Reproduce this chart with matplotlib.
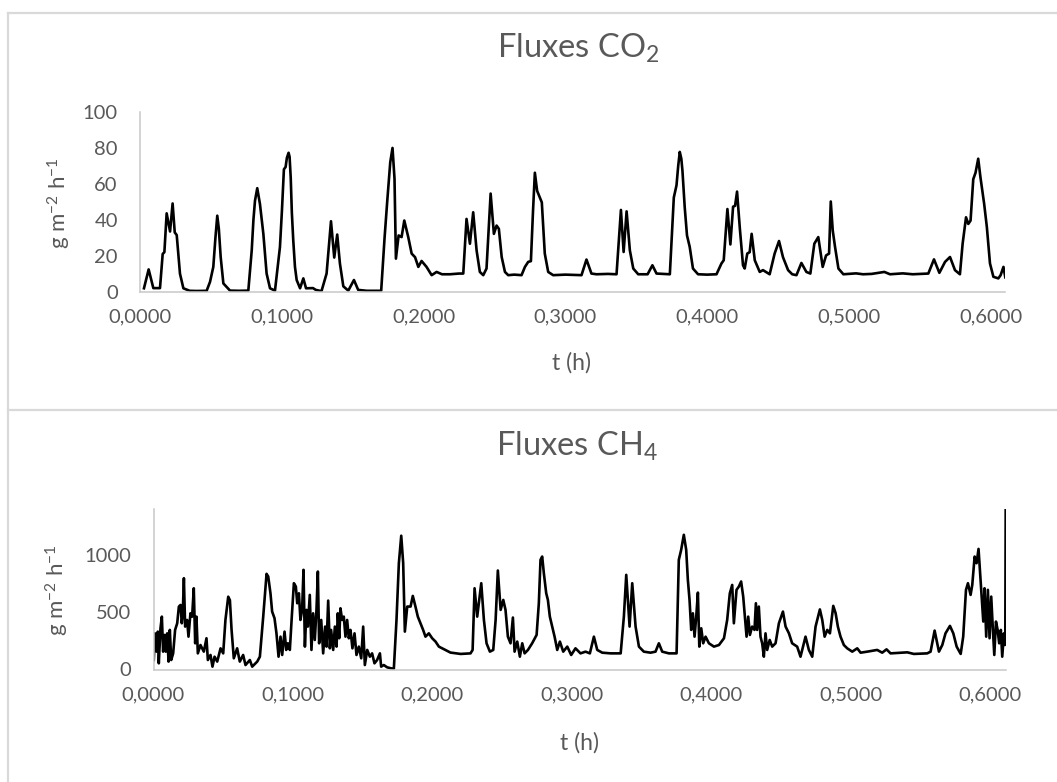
import matplotlib
matplotlib.use("Agg")
import matplotlib.pyplot as plt
from matplotlib.lines import Line2D
from matplotlib.ticker import FuncFormatter, FixedLocator

plt.rcParams['font.family'] = ['Lato', 'DejaVu Sans']
plt.rcParams['mathtext.fontset'] = 'custom'
plt.rcParams['mathtext.rm'] = 'Lato'
plt.rcParams['mathtext.it'] = 'Lato'

# ---------------- data ----------------
co2_t = [0.0028, 0.0061, 0.0094, 0.0141, 0.0160, 0.0172, 0.0188, 0.0212, 0.0230, 0.0245,
         0.0259, 0.0282, 0.0306, 0.0350, 0.0400, 0.0470, 0.0494, 0.0517, 0.0532, 0.0545,
         0.0556, 0.0569, 0.0588, 0.0635, 0.0700, 0.0764, 0.0788, 0.0800, 0.0811, 0.0827,
         0.0846, 0.0870, 0.0893, 0.0917, 0.0952, 0.0987, 0.1001, 0.1015, 0.1027, 0.1036,
         0.1048, 0.1055, 0.1063, 0.1071, 0.1081, 0.1093, 0.1105, 0.1129, 0.1152, 0.1171,
         0.1220, 0.1240, 0.1280, 0.1316, 0.1347, 0.1370, 0.1391, 0.1410, 0.1434, 0.1469,
         0.1509, 0.1539, 0.1600, 0.1701, 0.1725, 0.1744, 0.1765, 0.1781, 0.1795, 0.1805,
         0.1824, 0.1845, 0.1864, 0.1892, 0.1916, 0.1940, 0.1963, 0.1986, 0.2021, 0.2057,
         0.2092, 0.2130, 0.2186, 0.2250, 0.2280, 0.2303, 0.2327, 0.2350, 0.2374, 0.2397,
         0.2421, 0.2444, 0.2473, 0.2496, 0.2515, 0.2531, 0.2551, 0.2574, 0.2597, 0.2640,
         0.2691, 0.2715, 0.2738, 0.2757, 0.2772, 0.2785, 0.2801, 0.2815, 0.2834, 0.2855,
         0.2879, 0.2914, 0.3000, 0.3114, 0.3149, 0.3184, 0.3220, 0.3300, 0.3361, 0.3392,
         0.3411, 0.3432, 0.3455, 0.3479, 0.3514, 0.3580, 0.3614, 0.3643, 0.3737, 0.3765,
         0.3784, 0.3796, 0.3807, 0.3818, 0.3826, 0.3842, 0.3858, 0.3877, 0.3900, 0.3936,
         0.4000, 0.4066, 0.4101, 0.4117, 0.4143, 0.4164, 0.4183, 0.4197, 0.4211, 0.4230,
         0.4253, 0.4265, 0.4283, 0.4300, 0.4314, 0.4336, 0.4371, 0.4394, 0.4441, 0.4476,
         0.4507, 0.4535, 0.4571, 0.4600, 0.4630, 0.4665, 0.4700, 0.4728, 0.4756, 0.4784,
         0.4815, 0.4839, 0.4860, 0.4872, 0.4886, 0.4902, 0.4926, 0.4961, 0.5050, 0.5100,
         0.5160, 0.5250, 0.5290, 0.5380, 0.5450, 0.5560, 0.5600, 0.5638, 0.5678, 0.5713,
         0.5748, 0.5783, 0.5802, 0.5826, 0.5842, 0.5858, 0.5877, 0.5893, 0.5912, 0.5928,
         0.5954, 0.5973, 0.5995, 0.6019, 0.6054, 0.6070, 0.6090, 0.6103]
co2_v = [1.9, 12.4, 2.0, 2.0, 21.0, 22.0, 43.6, 33.5, 49.1, 33.0,
         31.5, 10.0, 1.9, 0.5, 0.4, 0.5, 5.5, 13.8, 30.0, 42.3,
         35.0, 19.3, 4.6, 0.6, 0.5, 0.6, 23.0, 40.0, 50.6, 57.6,
         48.8, 32.2, 10.1, 1.9, 0.6, 24.8, 45.0, 68.1, 69.4, 74.5,
         77.3, 75.1, 63.5, 44.0, 28.5, 13.8, 6.5, 1.9, 7.4, 1.9,
         2.0, 1.0, 0.3, 10.1, 39.2, 19.0, 31.8, 15.7, 3.0, 0.6,
         6.5, 1.0, 0.5, 0.5, 30.0, 50.6, 72.0, 80.0, 63.0, 18.4,
         31.3, 30.4, 39.6, 30.4, 21.2, 19.2, 13.8, 17.1, 13.8, 9.2,
         11.0, 9.7, 9.7, 10.1, 10.1, 40.5, 26.7, 44.2, 23.0, 11.0,
         9.2, 12.9, 54.6, 32.2, 36.8, 35.0, 19.3, 11.0, 9.2, 9.5,
         9.2, 13.8, 16.6, 17.0, 45.0, 66.2, 56.1, 53.4, 49.7, 21.2,
         11.0, 9.2, 9.5, 9.2, 17.9, 10.1, 9.7, 9.9, 9.7, 45.5,
         22.1, 44.7, 23.0, 12.9, 9.7, 9.7, 14.7, 10.1, 9.7, 52.4,
         59.2, 70.0, 77.8, 74.0, 67.2, 46.9, 31.3, 25.0, 12.9, 9.7,
         9.5, 9.7, 15.7, 17.5, 46.0, 26.3, 47.3, 47.8, 55.7, 35.9,
         14.7, 12.9, 21.2, 22.0, 32.2, 17.5, 11.0, 12.0, 9.7, 21.2,
         28.2, 19.2, 12.0, 9.7, 9.2, 16.0, 11.0, 10.1, 26.7, 30.4,
         13.8, 20.2, 21.2, 50.2, 34.0, 25.0, 12.9, 9.7, 10.2, 9.7,
         9.9, 11.0, 9.7, 10.2, 9.7, 10.1, 18.0, 10.5, 16.6, 19.3,
         12.0, 9.7, 26.7, 41.4, 37.7, 39.6, 62.6, 66.2, 74.0, 63.5,
         48.8, 35.9, 15.7, 8.3, 7.4, 9.2, 13.8, 8.0]

ch4_t = [0.0002, 0.0010, 0.0022, 0.0031, 0.0038, 0.0050, 0.0060, 0.0069, 0.0079, 0.0088,
         0.0098, 0.0108, 0.0117, 0.0127, 0.0141, 0.0155, 0.0170, 0.0182, 0.0194, 0.0203,
         0.0210, 0.0218, 0.0227, 0.0241, 0.0251, 0.0265, 0.0277, 0.0289, 0.0299, 0.0308,
         0.0318, 0.0337, 0.0361, 0.0380, 0.0390, 0.0409, 0.0423, 0.0438, 0.0457, 0.0481,
         0.0500, 0.0516, 0.0536, 0.0548, 0.0560, 0.0576, 0.0600, 0.0619, 0.0643, 0.0660,
         0.0691, 0.0708, 0.0744, 0.0763, 0.0787, 0.0811, 0.0823, 0.0839, 0.0851, 0.0868,
         0.0882, 0.0897, 0.0911, 0.0923, 0.0940, 0.0952, 0.0964, 0.0978, 0.0992, 0.1007,
         0.1021, 0.1031, 0.1043, 0.1054, 0.1066, 0.1076, 0.1086, 0.1097, 0.1107, 0.1121,
         0.1133, 0.1145, 0.1157, 0.1169, 0.1179, 0.1188, 0.1203, 0.1217, 0.1231, 0.1241,
         0.1253, 0.1265, 0.1274, 0.1289, 0.1301, 0.1313, 0.1322, 0.1332, 0.1341, 0.1353,
         0.1365, 0.1377, 0.1389, 0.1401, 0.1413, 0.1427, 0.1442, 0.1456, 0.1473, 0.1490,
         0.1504, 0.1516, 0.1533, 0.1552, 0.1568, 0.1585, 0.1604, 0.1624, 0.1633, 0.1652,
         0.1676, 0.1705, 0.1724, 0.1743, 0.1760, 0.1777, 0.1791, 0.1803, 0.1820, 0.1844,
         0.1860, 0.1879, 0.1896, 0.1915, 0.1934, 0.1951, 0.1975, 0.1999, 0.2023, 0.2047,
         0.2071, 0.2095, 0.2130, 0.2203, 0.2274, 0.2289, 0.2303, 0.2322, 0.2351, 0.2370,
         0.2389, 0.2413, 0.2437, 0.2454, 0.2470, 0.2490, 0.2509, 0.2525, 0.2542, 0.2561,
         0.2578, 0.2590, 0.2609, 0.2628, 0.2645, 0.2662, 0.2686, 0.2716, 0.2748, 0.2764,
         0.2776, 0.2788, 0.2800, 0.2817, 0.2829, 0.2843, 0.2860, 0.2877, 0.2896, 0.2915,
         0.2939, 0.2968, 0.2996, 0.3027, 0.3063, 0.3099, 0.3130, 0.3159, 0.3183, 0.3219,
         0.3279, 0.3351, 0.3374, 0.3391, 0.3415, 0.3434, 0.3458, 0.3482, 0.3517, 0.3565,
         0.3601, 0.3625, 0.3649, 0.3697, 0.3752, 0.3768, 0.3785, 0.3804, 0.3821, 0.3833,
         0.3845, 0.3857, 0.3869, 0.3881, 0.3893, 0.3905, 0.3915, 0.3929, 0.3943, 0.3960,
         0.3984, 0.4020, 0.4056, 0.4092, 0.4115, 0.4134, 0.4151, 0.4163, 0.4182, 0.4199,
         0.4215, 0.4230, 0.4242, 0.4254, 0.4266, 0.4278, 0.4294, 0.4311, 0.4321, 0.4330,
         0.4342, 0.4354, 0.4366, 0.4378, 0.4390, 0.4402, 0.4420, 0.4438, 0.4462, 0.4486,
         0.4515, 0.4534, 0.4558, 0.4581, 0.4617, 0.4641, 0.4653, 0.4677, 0.4701, 0.4725,
         0.4749, 0.4780, 0.4797, 0.4814, 0.4833, 0.4852, 0.4876, 0.4893, 0.4909, 0.4928,
         0.4952, 0.4976, 0.5012, 0.5048, 0.5072, 0.5120, 0.5191, 0.5227, 0.5258, 0.5287,
         0.5407, 0.5454, 0.5550, 0.5574, 0.5603, 0.5634, 0.5658, 0.5681, 0.5713, 0.5737,
         0.5761, 0.5790, 0.5808, 0.5828, 0.5842, 0.5861, 0.5873, 0.5890, 0.5904, 0.5918,
         0.5928, 0.5940, 0.5952, 0.5961, 0.5973, 0.5985, 0.5997, 0.6009, 0.6021, 0.6031,
         0.6043, 0.6055, 0.6066, 0.6078, 0.6088, 0.6100, 0.6107, 0.6110, 0.6113]
ch4_v = [83, 316, 156, 331, 54, 360, 462, 156, 302, 156,
         316, 69, 346, 83, 141, 346, 404, 550, 564, 404,
         491, 798, 375, 433, 287, 491, 462, 710, 229, 462,
         141, 214, 156, 273, 83, 127, 25, 112, 69, 185,
         141, 433, 636, 606, 346, 98, 185, 69, 127, 39,
         83, 25, 69, 112, 462, 836, 812, 666, 506, 448,
         316, 112, 287, 127, 331, 171, 229, 171, 462, 754,
         725, 579, 666, 433, 521, 871, 200, 521, 375, 652,
         171, 491, 258, 521, 856, 229, 433, 141, 375, 200,
         602, 185, 346, 171, 375, 200, 491, 273, 535, 433,
         462, 287, 433, 273, 346, 185, 316, 127, 200, 98,
         375, 39, 171, 112, 141, 54, 83, 141, 25, 39,
         19, 10, 7, 433, 929, 1169, 929, 331, 550, 550,
         643, 550, 462, 404, 346, 287, 316, 273, 244, 200,
         185, 171, 148, 136, 141, 171, 710, 462, 754, 433,
         229, 156, 171, 433, 865, 521, 608, 521, 287, 229,
         454, 156, 244, 112, 229, 141, 171, 229, 302, 579,
         958, 987, 841, 666, 608, 462, 375, 287, 171, 244,
         156, 200, 127, 185, 141, 156, 141, 287, 171, 147,
         141, 141, 462, 827, 375, 754, 375, 200, 156, 147,
         156, 229, 156, 141, 141, 958, 1046, 1177, 1046, 783,
         608, 346, 491, 287, 462, 672, 200, 360, 229, 287,
         229, 200, 214, 273, 433, 666, 739, 404, 696, 725,
         769, 637, 462, 287, 462, 302, 375, 346, 579, 346,
         550, 287, 229, 112, 316, 171, 258, 200, 229, 404,
         506, 375, 316, 229, 200, 112, 171, 287, 171, 112,
         375, 525, 433, 287, 346, 316, 556, 491, 375, 287,
         214, 185, 156, 185, 147, 156, 171, 147, 176, 141,
         150, 136, 141, 156, 340, 156, 214, 316, 381, 316,
         200, 136, 287, 696, 754, 652, 739, 987, 929, 1054,
         871, 637, 419, 710, 287, 696, 273, 637, 346, 127,
         419, 346, 229, 346, 112, 316, 214, 302, 1450]

co2_yticks = [0, 20, 40, 60, 80, 100]
ch4_yticks = [0, 500, 1000]
x_ticks = [0.0, 0.1, 0.2, 0.3, 0.4, 0.5, 0.6]

# ---------------- figure ----------------
W, H = 1057, 782
fig = plt.figure(figsize=(W / 100, H / 100), dpi=100)
fig.patch.set_facecolor('white')

GRAY_TXT = '#595959'
AX_COL = '#c8c8c8'
BORDER = '#d9d9d9'

# panel borders
for (x0, y0, x1, y1) in [(8, 12.7, 1057, 12.7), (8, 12.7, 8, 782), (8, 410, 1057, 410)]:
    fig.add_artist(Line2D([x0 / W, x1 / W], [1 - y0 / H, 1 - y1 / H],
                          transform=fig.transFigure, color=BORDER, lw=1.6))

def px_axes(left, right, top, bottom):
    return [left / W, 1 - bottom / H, (right - left) / W, (bottom - top) / H]

fmt = FuncFormatter(lambda x, p: f"{x:.4f}".replace('.', ','))

def style(ax, xmax, ymax, yticks):
    ax.set_xlim(0, xmax)
    ax.set_ylim(0, ymax)
    ax.xaxis.set_major_locator(FixedLocator(x_ticks))
    ax.xaxis.set_major_formatter(fmt)
    ax.yaxis.set_major_locator(FixedLocator(yticks))
    for s in ['top', 'right']:
        ax.spines[s].set_visible(False)
    for s in ['left', 'bottom']:
        ax.spines[s].set_color(AX_COL)
        ax.spines[s].set_linewidth(1.1)
    ax.tick_params(axis='both', length=0, labelsize=14.5, labelcolor=GRAY_TXT)
    ax.tick_params(axis='y', pad=16)
    ax.tick_params(axis='x', pad=12)
    ax.patch.set_alpha(0)

ax1 = fig.add_axes(px_axes(140, 1005.3, 112, 291.7))
ax1.plot(co2_t, co2_v, color='black', lw=1.9, solid_joinstyle='round')
style(ax1, 0.6103, 100, co2_yticks)

ax2 = fig.add_axes(px_axes(153.5, 1006, 509.3, 669.5))
ax2.plot(ch4_t, ch4_v, color='black', lw=1.9, solid_joinstyle='round')
style(ax2, 0.6115, 1400, ch4_yticks)

# titles and axis titles
fig.text(578 / W, 1 - 48 / H, r'Fluxes CO$_{\mathregular{2}}$', ha='center', va='center',
         fontsize=23.5, color=GRAY_TXT)
fig.text(577 / W, 1 - 446.7 / H, r'Fluxes CH$_{\mathregular{4}}$', ha='center', va='center',
         fontsize=23.5, color=GRAY_TXT)
fig.text(572 / W, 1 - 363 / H, 't (h)', ha='center', va='center', fontsize=16.5, color=GRAY_TXT)
fig.text(579 / W, 1 - 743 / H, 't (h)', ha='center', va='center', fontsize=16.5, color=GRAY_TXT)
ylab = r'g m$^{\mathregular{-2}}$ h$^{\mathregular{-1}}$'
fig.text(59 / W, 1 - 203 / H, ylab, ha='center', va='center', rotation=90,
         fontsize=16, color=GRAY_TXT)
fig.text(57 / W, 1 - 590 / H, ylab, ha='center', va='center', rotation=90,
         fontsize=16, color=GRAY_TXT)

fig.savefig('out.png', dpi=100)
